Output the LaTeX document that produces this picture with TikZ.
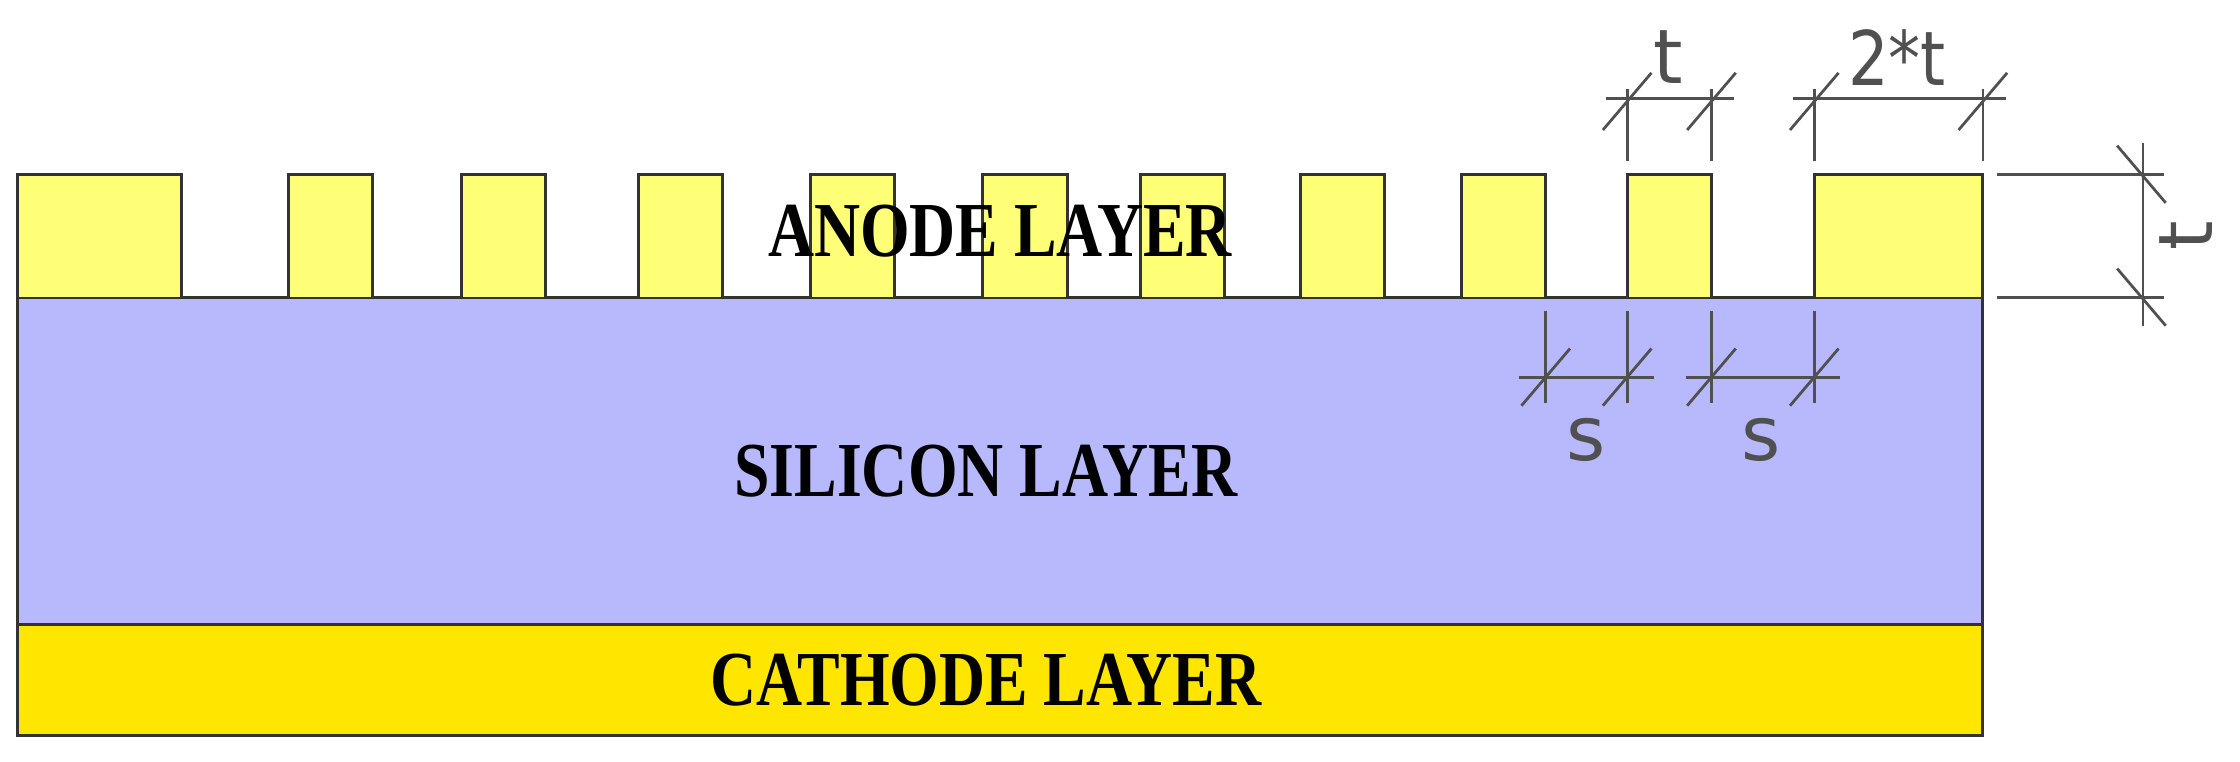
\documentclass[tikz,border=0pt]{standalone}
\usepackage{fontspec}
\setmainfont{Liberation Serif}
\newfontfamily\dimfont{DejaVu Sans}
\definecolor{anode}{HTML}{FFFF77}
\definecolor{silicon}{HTML}{B8B8FC}
\definecolor{cathode}{HTML}{FFE600}
\definecolor{dimgray}{HTML}{505050}
\begin{document}
\begin{tikzpicture}[x=0.02cm,y=-0.02cm,
  layer/.style={draw=black!80,line width=1.2pt},
  lbl/.style={font=\fontsize{31}{31}\selectfont\bfseries,inner sep=0pt,xscale=0.82},
  dim/.style={draw=dimgray,line width=1.1pt},
  dimtxt/.style={text=dimgray,font=\dimfont\fontsize{30}{30}\selectfont,inner sep=0pt}]
\useasboundingbox (0,0) rectangle (1568,533);
% layers
\fill[cathode] (12,437) rectangle (1388,515);
\draw[layer] (12,437) rectangle (1388,515);
\fill[silicon] (12,208) rectangle (1388,437);
\draw[layer] (12,208) rectangle (1388,437);
\foreach \a/\b in {12/127,202/261,323/382,447/506,567/626,688/747,798/857,910/969,1023/1082,1139/1198,1270/1388}{
  \draw[layer,fill=anode] (\a,208) -- (\a,122) -- (\b,122) -- (\b,208);
}
\node[lbl] (anodelbl) at (700,162) {ANODE LAYER};
\node[lbl] (silbl) at (690,330) {SILICON LAYER};
\node[lbl] (catlbl) at (690,476) {CATHODE LAYER};
% top dimensions
\foreach \x in {1139,1198,1270,1388}{
  \draw[dim] (\x,113) -- (\x,62);
  \draw[dim] (\x-17,91) -- (\x+17,51);
}
\draw[dim] (1124,69) -- (1214,69);
\draw[dim] (1255,69) -- (1404,69);
\node[dimtxt] (tlbl) at (1168,40) {t};
\node[dimtxt,xscale=0.85] (ttlbl) at (1328,40) {2*t};
% right dimension
\draw[dim] (1398,122) -- (1515,122);
\draw[dim] (1398,208) -- (1515,208);
\draw[dim] (1500,100) -- (1500,228);
\draw[dim] (1482,102) -- (1516,142);
\draw[dim] (1482,188) -- (1516,228);
\node[dimtxt,rotate=90] (rlbl) at (1530,165) {t};
% s dimensions
\foreach \x in {1082,1139,1198,1270}{
  \draw[dim] (\x,218) -- (\x,282);
  \draw[dim] (\x-17,284) -- (\x+17,244);
}
\draw[dim] (1063,264) -- (1158,264);
\draw[dim] (1180,264) -- (1288,264);
\node[dimtxt] (s1) at (1110,308) {s};
\node[dimtxt] (s2) at (1233,308) {s};
\end{tikzpicture}
\end{document}
